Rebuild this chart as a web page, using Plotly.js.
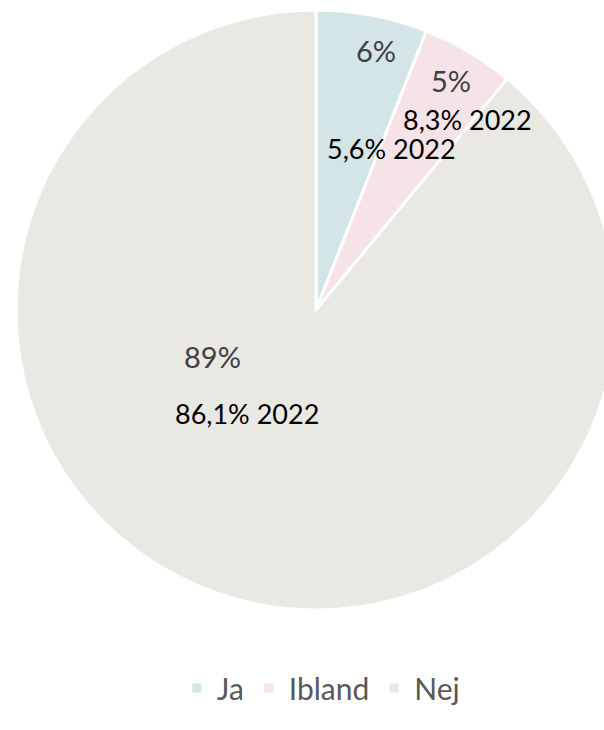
<!DOCTYPE html>
<html><head><meta charset="utf-8">
<script src="https://cdn.plot.ly/plotly-3.0.1.min.js"></script>
<style>html,body{margin:0;padding:0;overflow:hidden;background:#fff;}#chart{width:640px;height:730px;}</style>
</head><body><div id="chart"></div>
<script>
const categories = ["Ja", "Ibland", "Nej"];
const values2024 = [6, 5, 89];
const labels2024 = ["6%", "5%", "89%"];
const labels2022 = ["5,6% 2022", "8,3% 2022", "86,1% 2022"];
const colors = ["#d3e5e7", "#f5e3e7", "#e9e8e3"];

const FONT = "Lato, 'Open Sans', sans-serif";
// label anchor spots (paper coords) for each slice
const mainPos = [[0.60, 0.933], [0.725, 0.883], [0.327, 0.423]];
const subPos = [[0.625, 0.77], [0.752, 0.817], [0.385, 0.328]];

const annotations = [];
categories.forEach((c, i) => {
  annotations.push({xref:'paper', yref:'paper', x:mainPos[i][0], y:mainPos[i][1], text:labels2024[i],
    showarrow:false, xanchor:'center', yanchor:'middle', font:{family:FONT, size:29, color:'#404040'}});
  annotations.push({xref:'paper', yref:'paper', x:subPos[i][0], y:subPos[i][1], text:labels2022[i],
    showarrow:false, xanchor:'center', yanchor:'middle', font:{family:FONT, size:27, color:'#000000'}});
});

const trace = {
  type: 'pie',
  labels: categories,
  values: values2024,
  sort: false,
  direction: 'clockwise',
  rotation: 0,
  marker: {colors: colors, line: {color: '#ffffff', width: 3}},
  textinfo: 'none',
  hoverinfo: 'label+percent',
  domain: {x: [0, 1], y: [0, 1]}
};

const layout = {
  width: 640, height: 730,
  margin: {l: 16, r: 24, t: 10, b: 120},
  paper_bgcolor: '#ffffff',
  showlegend: true,
  legend: {orientation: 'h', x: 0.508, xanchor: 'center', y: -0.13, yanchor: 'middle',
    font: {family: FONT, size: 30, color: '#595959'}, itemwidth: 30},
  annotations: annotations,
  font: {family: FONT}
};

Plotly.newPlot('chart', [trace], layout, {displayModeBar: false, staticPlot: true});
</script></body></html>
